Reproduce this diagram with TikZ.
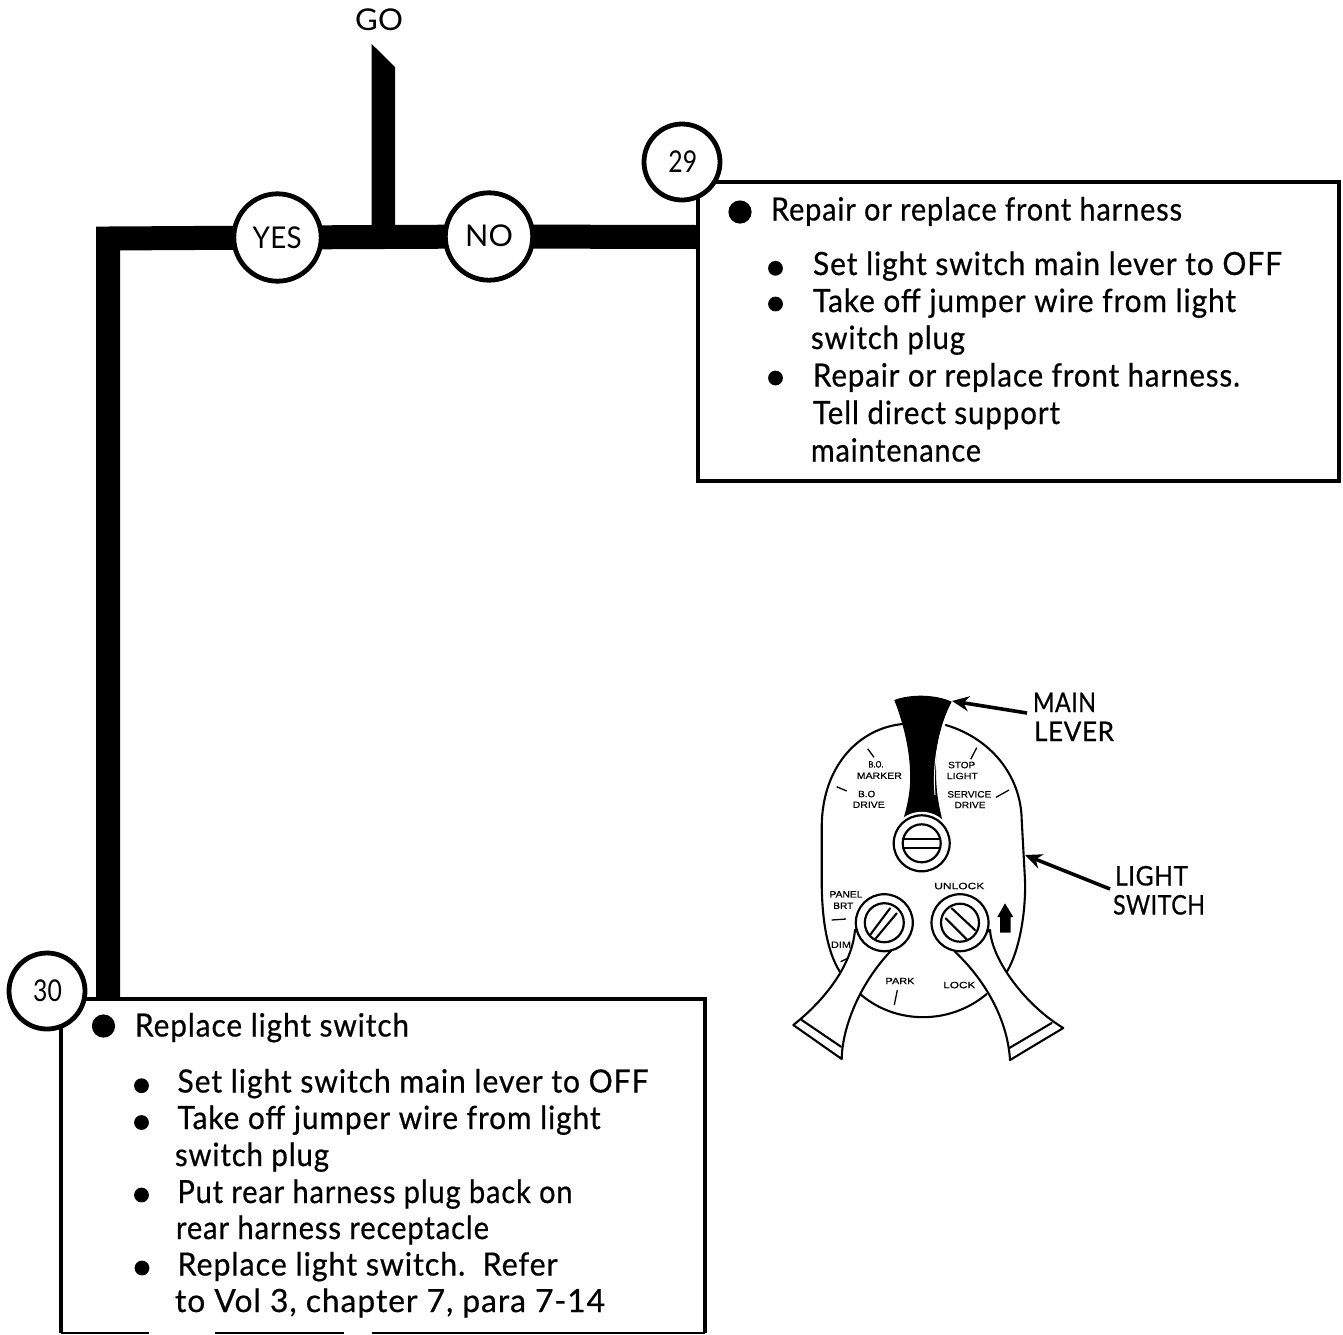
\documentclass[tikz,border=0pt]{standalone}
\usepackage{fontspec}
\usepackage{graphicx}
\usetikzlibrary{backgrounds,arrows.meta}
\setmainfont[FakeBold=0.6,LetterSpace=3]{Lato}
\newfontfamily\capsfont[FakeBold=0.6,LetterSpace=2]{Lato}
\newfontfamily\plainfont[LetterSpace=1]{Lato}
\newfontfamily\smallsans[FakeBold=0.5]{Liberation Sans}
\newcommand{\tline}[5]{\node[txt] (#1) at (#2,#3) {\resizebox{\dimexpr #4pt/2\relax}{\height}{#5}};}
\newcommand{\capline}[5]{\node[captxt] (#1) at (#2,#3) {\resizebox{\dimexpr #4pt/2\relax}{\height}{#5}};}
\newcommand{\ringline}[5]{\node[ringtxt] (#1) at (#2,#3) {\resizebox{\dimexpr #4pt/2\relax}{\height}{#5}};}
\newcommand{\sline}[5]{\node[smalltxt] (#1) at (#2,#3) {\resizebox{\dimexpr #4pt/2\relax}{\height}{#5}};}
\tikzset{
 txt/.style={anchor=base west,inner sep=0pt,outer sep=0pt,font=\fontsize{16pt}{18pt}\selectfont},
 captxt/.style={anchor=base west,inner sep=0pt,outer sep=0pt,font=\capsfont\fontsize{13.5pt}{15pt}\selectfont},
 ringtxt/.style={anchor=base west,inner sep=0pt,outer sep=0pt,font=\plainfont\fontsize{15pt}{16pt}\selectfont},
 smalltxt/.style={anchor=center,inner sep=0pt,outer sep=0pt,font=\smallsans\fontsize{4.6pt}{5pt}\selectfont},
 bigbul/.style={circle,fill=black,inner sep=0pt,minimum size=11.6pt},
 subbul/.style={circle,fill=black,inner sep=0pt,minimum size=7.4pt},
 bx/.style={fill=white,inner sep=0pt,outer sep=0pt},
 bxline/.style={draw=black,line width=2pt,line join=miter},
 ring/.style={circle,draw=black,fill=white,line width=2.4pt,inner sep=0pt,outer sep=0pt},
 flow/.style={line width=12pt,line cap=butt,line join=miter},
 sw/.style={line width=1.05pt,line cap=round,line join=round},
 kn/.style={circle,draw=black,fill=white,line width=1.1pt,inner sep=0pt},
 tick/.style={line width=0.65pt},
 lead/.style={line width=1.8pt,-{Stealth[length=8.5pt,width=7.5pt]}},
}
\begin{document}
\begin{tikzpicture}[x=0.5pt,y=-0.5pt]
\useasboundingbox (0,0) rectangle (1343,1334);
% boxes
\node[bx,draw=black,line width=2pt,minimum width=320.5pt,minimum height=149.5pt] (boxa) at (1018.5,331.5) {};
\node[bx,minimum width=322pt,minimum height=167pt] (boxb) at (383,1166) {};
\draw[bxline] (boxb.south west) -- (boxb.north west) -- (boxb.north east) -- (boxb.south east);
\coordinate (g1) at (149,1333);
\coordinate (g2) at (215,1333);
\coordinate (g3) at (344,1333);
\coordinate (g4) at (372,1333);
\draw[line width=1pt] (boxb.south west) -- (g1) (g2) -- (g3) (g4) -- (boxb.south east);
% circles
\node[ring,minimum size=43.7pt] (yes) at (277.5,237.5) {};
\node[ring,minimum size=43.7pt] (no) at (489,236.5) {};
\node[ring,minimum size=38pt] (n29) at (682,162) {};
\node[ring,minimum size=38pt] (n30) at (47,991) {};
\ringline{tyes}{252.7}{248.3}{49}{YES}
\ringline{tno}{465}{246.7}{48}{NO}
\ringline{t29}{668.3}{172}{29}{29}
\ringline{t30}{33}{1001.5}{29}{30}
% flow lines
\coordinate (corner) at (108,238.5);
\coordinate (boxedge) at (698,237);
\coordinate (junction) at (383.3,238);
\coordinate (tipa) at (371.7,44);
\coordinate (tipb) at (395,67);
\begin{scope}[on background layer]
\draw[flow] (no.center) -- (boxedge);
\draw[flow] (no.center) -- (yes.center);
\draw[flow] (yes.center) -- (corner) -- (corner |- boxb.north);
\fill (tipa) -- (tipb) -- (tipb |- junction) -- (tipa |- junction) -- cycle;
\end{scope}
\ringline{go}{355}{30}{48}{GO}
% top box text
\node[bigbul] (ba) at (740,212) {};
\tline{a1}{771}{220.5}{411}{Repair or replace front harness}
\node[subbul] (ba1) at (775.5,268.3) {};
\tline{a2}{813}{275}{469}{Set light switch main lever to OFF}
\node[subbul] (ba2) at (775.5,304) {};
\tline{a3}{813}{312}{423}{Take off jumper wire from light}
\tline{a4}{811}{349}{154}{switch plug}
\node[subbul] (ba3) at (775.5,378) {};
\tline{a5}{813}{386.5}{427}{Repair or replace front harness.}
\tline{a6}{813}{424}{247}{Tell direct support}
\tline{a7}{811}{461.5}{170}{maintenance}
% bottom box text
\node[bigbul] (bb) at (103.5,1026) {};
\tline{b1}{135}{1036.5}{274}{Replace light switch}
\node[subbul] (bb1) at (141.5,1085.7) {};
\tline{b2}{177.5}{1092.5}{471}{Set light switch main lever to OFF}
\node[subbul] (bb2) at (141.5,1122.5) {};
\tline{b3}{177.5}{1129}{423}{Take off jumper wire from light}
\tline{b4}{175}{1166}{154}{switch plug}
\node[subbul] (bb3) at (141.5,1195) {};
\tline{b5}{177.5}{1203}{395}{Put rear harness plug back on}
\tline{b6}{176}{1239}{313}{rear harness receptacle}
\node[subbul] (bb4) at (142,1268) {};
\tline{b7}{177.5}{1275.5}{380}{Replace light switch.\ \ Refer}
\tline{b8}{175}{1312}{430}{to Vol 3, chapter 7, para 7-14}
% switch body
\draw[sw] (902.7,724) .. controls (860,728) and (822,765) .. (821.7,827) -- (821.7,880) .. controls (821.7,915) and (826,950) .. (840,972);
\draw[sw] (945.7,725) .. controls (990,738) and (1021,775) .. (1021.7,820) -- (1025,880) .. controls (1026,910) and (1020,950) .. (1006.7,972);
\draw[sw] (859.3,993.3) .. controls (895,1025) and (950,1025) .. (986.7,994);
% left lever
\draw[sw,fill=white] (855,930) .. controls (852,965) and (825,1000) .. (793.3,1025) -- (841.7,1059) .. controls (842,1030) and (858,985) .. (891.7,950) -- cycle;
\draw[sw] (801.7,1020) -- (841,1046.7);
% right lever
\draw[sw,fill=white] (990,930) .. controls (992,960) and (1025,1005) .. (1063.3,1028) -- (1010,1060) .. controls (1008,1025) and (990,985) .. (955,951.7) -- cycle;
\draw[sw] (1051.7,1023) -- (1009.3,1048);
% main lever
\fill (894.3,700) .. controls (910,694) and (935,694) .. (951.7,701.7) .. controls (942,720) and (935,745) .. (936,770) .. controls (936,790) and (938,805) .. (945,830) -- (900,830) .. controls (908,805) and (911,790) .. (910,770) .. controls (909,745) and (902,720) .. (894.3,700) -- cycle;
\draw[white,line width=0.5pt] (945,720) .. controls (936,745) and (933,770) .. (935,795);
% knobs
\node[circle,fill=white,inner sep=0pt,minimum size=31.5pt] (kmw) at (921.7,843.3) {};
\node[kn,minimum size=28pt] (km) at (921.7,843.3) {};
\node[kn,minimum size=19pt] (kmi) at (921.7,843.3) {};
\node[kn,minimum size=28.5pt] (kl) at (884.3,922.7) {};
\node[kn,minimum size=19.5pt] (kli) at (884.3,922.7) {};
\node[kn,minimum size=28.5pt] (kr) at (960,922.7) {};
\node[kn,minimum size=19pt] (kri) at (960,922.7) {};
\draw[sw] (903,839.3) -- (940,839.3) (903,848.3) -- (940,848.3);
\draw[sw] (870,935) -- (890,908.3) (875,939.3) -- (896.7,913.3);
\draw[sw] (945.7,918.3) -- (967.3,940) (951.7,908.3) -- (975,930);
% ticks
\draw[tick] (867.7,748.7) -- (874,757.3) (836.7,786.7) -- (846.7,791) (976.7,747.7) -- (970.7,759.3) (996,797.3) -- (1009,790) (831.7,920) -- (846,919) (840.7,961.7) -- (848,958) (897.3,990) -- (894.3,1005);
% up arrow
\fill (1005,903.3) -- (1013.3,917) -- (1010.7,917) -- (1010.7,932.7) -- (1000,932.7) -- (1000,917) -- (997.3,917) -- cycle;
% small labels
\sline{s1}{876}{764.3}{15}{B.O.}
\sline{s2}{879.3}{775.7}{45}{MARKER}
\sline{s3}{866.7}{794}{17}{B.O}
\sline{s4}{868.7}{804.7}{32}{DRIVE}
\sline{s5}{961.7}{765}{27}{STOP}
\sline{s6}{962.3}{776}{31}{LIGHT}
\sline{s7}{969.3}{794.3}{44}{SERVICE}
\sline{s8}{970}{805}{31}{DRIVE}
\sline{s9}{846}{894.3}{33}{PANEL}
\sline{s10}{843.3}{905.7}{20}{BRT}
\sline{s11}{841}{944.7}{20}{DIM}
\sline{s12}{959.3}{886}{50}{UNLOCK}
\sline{s13}{900}{981}{29}{PARK}
\sline{s14}{959.3}{985}{32}{LOCK}
% callouts
\capline{m1}{1033}{712}{63}{MAIN}
\capline{m2}{1034}{741}{80}{LEVER}
\capline{l1}{1115}{885.5}{73}{LIGHT}
\capline{l2}{1113}{914.5}{92}{SWITCH}
\coordinate (mfrom) at (1027,713);
\coordinate (lfrom) at (1110,889);
\coordinate (mtip) at (952,701);
\coordinate (ltip) at (1025,855);
\draw[lead] (mfrom) -- (mtip);
\draw[lead] (lfrom) -- (ltip);
\end{tikzpicture}
\end{document}
